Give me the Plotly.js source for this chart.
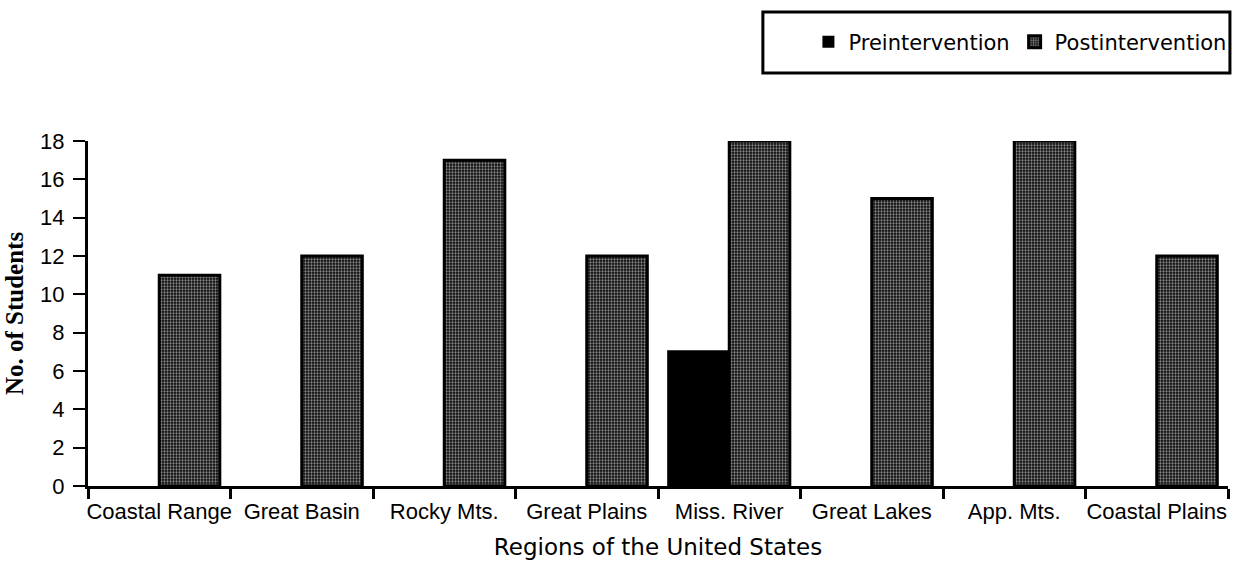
<!DOCTYPE html>
<html>
<head>
<meta charset="utf-8">
<script src="https://cdn.plot.ly/plotly-3.0.1.min.js"></script>
<style>html,body{margin:0;padding:0;background:#fff;}#chart{width:1239px;height:563px;}</style>
</head>
<body>
<div id="chart"></div>
<script>
const regions = ["Coastal Range","Great Basin","Rocky Mts.","Great Plains","Miss. River","Great Lakes","App. Mts.","Coastal Plains"];
const preintervention = [0,0,0,0,7,0,0,0];
const postintervention = [11,12,17,12,18,15,18,12];
const yTicks = [0,2,4,6,8,10,12,14,16,18];

const outline = v => (v > 0 ? 3 : 0);

const traces = [
  {
    type: "bar", name: "Preintervention", x: regions, y: preintervention,
    marker: {color: "#000", line: {color: "#000", width: preintervention.map(outline)}}
  },
  {
    type: "bar", name: "Postintervention", x: regions, y: postintervention,
    marker: {color: "#000", line: {color: "#000", width: postintervention.map(outline)},
      pattern: {shape: ".", fgcolor: "#fff", bgcolor: "#0a0a0a", size: 3, solidity: 0.45, fillmode: "overlay"}}
  }
];

const layout = {
  width: 1239, height: 563,
  margin: {l: 88, r: 8, t: 141, b: 77},
  paper_bgcolor: "#fff", plot_bgcolor: "#fff",
  barmode: "group", bargap: 0.15, bargroupgap: 0,
  showlegend: true,
  legend: {
    orientation: "h", x: 1.003, xanchor: "right", y: 1.287, yanchor: "middle",
    borderwidth: 0, bgcolor: "rgba(0,0,0,0)",
    font: {family: "DejaVu Sans", size: 21, color: "#000"},
    itemwidth: 30, traceorder: "normal"
  },
  shapes: [
    {type: "rect", xref: "paper", yref: "paper", x0: 0.592, x1: 1.0017, y0: 1.197, y1: 1.374,
     line: {color: "#000", width: 3}, fillcolor: "rgba(0,0,0,0)"}
  ],
  xaxis: {
    type: "category", tickson: "boundaries", ticks: "outside", ticklen: 10, tickwidth: 3, tickcolor: "#000",
    showline: true, linecolor: "#000", linewidth: 3, showgrid: false, zeroline: false, tickangle: 0,
    ticklabelstandoff: 4,
    tickfont: {family: "Liberation Sans, Arial", size: 22, color: "#000"},
    title: {text: "Regions of the United States", font: {family: "DejaVu Sans", size: 23, color: "#000"}, standoff: 16}
  },
  yaxis: {
    range: [0, 18], tickvals: yTicks, ticks: "outside", ticklen: 12, tickwidth: 2, tickcolor: "#000",
    showline: true, linecolor: "#000", linewidth: 3, showgrid: false, zeroline: false,
    ticklabelstandoff: 4,
    tickfont: {family: "Liberation Sans, Arial", size: 22, color: "#000"},
    title: {text: "<b>No. of Students</b>", font: {family: "Liberation Serif, DejaVu Serif", size: 25, color: "#000"}, standoff: 10}
  }
};

Plotly.newPlot("chart", traces, layout, {displayModeBar: false, staticPlot: true});
</script>
</body>
</html>
